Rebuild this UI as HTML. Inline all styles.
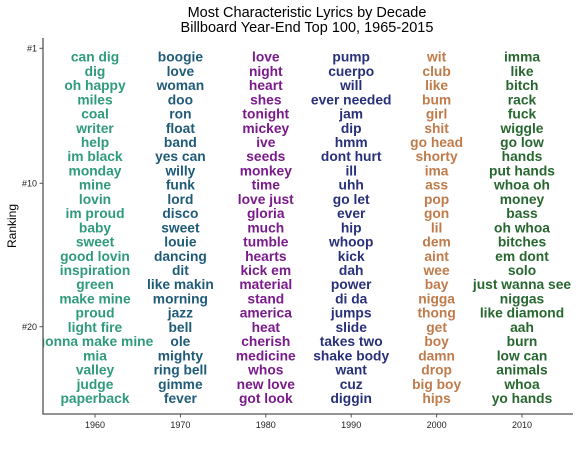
<!DOCTYPE html>
<html><head><meta charset="utf-8"><style>
html,body{margin:0;padding:0;background:#fff;}
svg{display:block;font-family:"Liberation Sans",Arial,sans-serif;}
</style></head><body>
<svg id="chart" width="584" height="449">
<defs><clipPath id="panel"><rect x="43" y="0" width="541" height="414"/></clipPath></defs>
<text x="307" y="17" text-anchor="middle" font-size="14.5" fill="#000">Most Characteristic Lyrics by Decade</text>
<text x="307" y="32" text-anchor="middle" font-size="14.5" fill="#000">Billboard Year-End Top 100, 1965-2015</text>
<text transform="translate(16,226) rotate(-90)" text-anchor="middle" font-size="12" fill="#000">Ranking</text>
<g id="marks" clip-path="url(#panel)"></g>
<line x1="43" y1="38" x2="43" y2="414.5" stroke="#555" stroke-width="1.3"/>
<line x1="42.4" y1="414" x2="573" y2="414" stroke="#555" stroke-width="1.3"/>
</svg>
<script>
const decades = [1960, 1970, 1980, 1990, 2000, 2010];
const words1960 = ["can dig","dig","oh happy","miles","coal","writer","help","im black","monday","mine","lovin","im proud","baby","sweet","good lovin","inspiration","green","make mine","proud","light fire","gonna make mine","mia","valley","judge","paperback"];
const words1970 = ["boogie","love","woman","doo","ron","float","band","yes can","willy","funk","lord","disco","sweet","louie","dancing","dit","like makin","morning","jazz","bell","ole","mighty","ring bell","gimme","fever"];
const words1980 = ["love","night","heart","shes","tonight","mickey","ive","seeds","monkey","time","love just","gloria","much","tumble","hearts","kick em","material","stand","america","heat","cherish","medicine","whos","new love","got look"];
const words1990 = ["pump","cuerpo","will","ever needed","jam","dip","hmm","dont hurt","ill","uhh","go let","ever","hip","whoop","kick","dah","power","di da","jumps","slide","takes two","shake body","want","cuz","diggin"];
const words2000 = ["wit","club","like","bum","girl","shit","go head","shorty","ima","ass","pop","gon","lil","dem","aint","wee","bay","nigga","thong","get","boy","damn","drop","big boy","hips"];
const words2010 = ["imma","like","bitch","rack","fuck","wiggle","go low","hands","put hands","whoa oh","money","bass","oh whoa","bitches","em dont","solo","just wanna see","niggas","like diamond","aah","burn","low can","animals","whoa","yo hands"];
const yTickRanks = [1, 10, 20];
const yTickLabels = ["#1", "#10", "#20"];
const xTickLabels = ["1960", "1970", "1980", "1990", "2000", "2010"];

const colors = ["#2f9b7c","#1f5b78","#7a1a8b","#28307a","#c07b4b","#27672f"];
const allWords = [words1960, words1970, words1980, words1990, words2000, words2010];
const xScale = d => 95 + (d - 1960) * 8.54;
const yScale = r => 56.7 + (r - 1) * 14.22;
const yTickPos = r => r === 1 ? 48.3 : (r === 10 ? 183.3 : 326.7);
const NS = "http://www.w3.org/2000/svg";
const svg = document.getElementById("chart");
const g = document.getElementById("marks");

decades.forEach((d, i) => {
  const x = xScale(d);
  const t = document.createElementNS(NS, "line");
  t.setAttribute("x1", x); t.setAttribute("x2", x);
  t.setAttribute("y1", 414); t.setAttribute("y2", 417.5);
  t.setAttribute("stroke", "#555"); t.setAttribute("stroke-width", "1");
  
  
  svg.appendChild(t);
  const l = document.createElementNS(NS, "text");
  l.setAttribute("x", x); l.setAttribute("y", 428);
  l.setAttribute("text-anchor", "middle"); l.setAttribute("font-size", "9");
  l.setAttribute("fill", "#222");
  l.textContent = xTickLabels[i];
  
  
  svg.appendChild(l);
  allWords[i].forEach((w, r) => {
    const tx = document.createElementNS(NS, "text");
    tx.setAttribute("x", x);
    tx.setAttribute("y", yScale(r + 1) + 5);
    tx.setAttribute("text-anchor", "middle");
    tx.setAttribute("font-size", "13.8");
    tx.setAttribute("font-weight", "bold");
    tx.setAttribute("fill", colors[i]);
    tx.textContent = w;
    
    
    g.appendChild(tx);
  });
});

yTickRanks.forEach((r, i) => {
  const y = yTickPos(r);
  const t = document.createElementNS(NS, "line");
  t.setAttribute("x1", 39.5); t.setAttribute("x2", 43);
  t.setAttribute("y1", y); t.setAttribute("y2", y);
  t.setAttribute("stroke", "#555"); t.setAttribute("stroke-width", "1");
  
  
  svg.appendChild(t);
  const l = document.createElementNS(NS, "text");
  l.setAttribute("x", 37); l.setAttribute("y", y + 3.2);
  l.setAttribute("text-anchor", "end"); l.setAttribute("font-size", "9");
  l.setAttribute("fill", "#222");
  l.textContent = yTickLabels[i];
  
  
  svg.appendChild(l);
});
</script>
</body></html>
